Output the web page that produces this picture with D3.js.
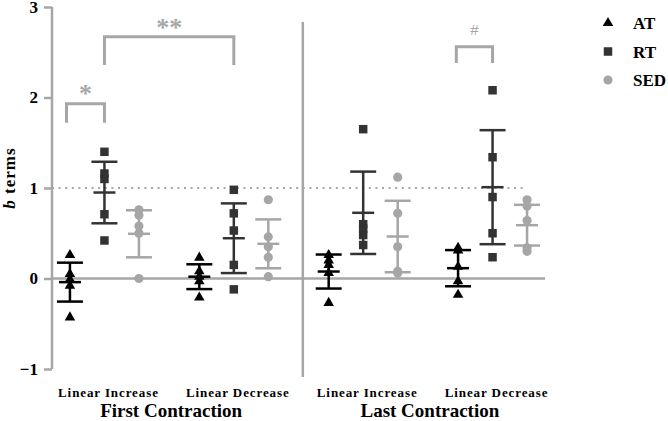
<!DOCTYPE html>
<html>
<head>
<meta charset="utf-8">
<script src="https://cdn.jsdelivr.net/npm/d3@7"></script>
<style>
  body { margin: 0; background: #fff; }
  text { font-family: "Liberation Serif", "DejaVu Serif", serif; }
</style>
</head>
<body>
<svg id="chart"></svg>
<script>
// Data
const phases = ["First Contraction", "Last Contraction"];
const groupLabels = ["Linear Increase", "Linear Decrease", "Linear Increase", "Linear Decrease"];
const seriesNames = ["AT", "RT", "SED"];

// individual points, one array per group
const atValues = [
  [0.26, 0.05, -0.01, -0.08, -0.43],
  [0.23, 0.08, 0.02, -0.03, -0.21],
  [0.26, 0.20, 0.15, 0.06, -0.27],
  [0.34, 0.31, 0.13, -0.03, -0.18]
];
const rtValues = [
  [1.40, 1.16, 1.10, 0.71, 0.42],
  [0.98, 0.72, 0.53, 0.15, -0.12],
  [1.65, 0.60, 0.55, 0.48, 0.37],
  [2.08, 1.34, 0.90, 0.50, 0.235]
];
const sedValues = [
  [0.76, 0.70, 0.58, 0.50, 0.00],
  [0.87, 0.46, 0.35, 0.235, 0.02],
  [1.12, 0.72, 0.35, 0.08, 0.06],
  [0.87, 0.80, 0.64, 0.34, 0.30]
];

// mean and SD shown by the error bars
const atMean = [-0.04, 0.02, 0.077, 0.114];
const atSd = [0.215, 0.137, 0.188, 0.2];
const rtMean = [0.95, 0.445, 0.726, 1.009];
const rtSd = [0.34, 0.385, 0.455, 0.63];
const sedMean = [0.494, 0.383, 0.464, 0.589];
const sedSd = [0.26, 0.27, 0.395, 0.225];

const yTicks = [-1, 0, 1, 2, 3];

// Chart dimensions
const svgWidth = 668;
const svgHeight = 421;
const axisColor = "#a6a6a6";
const colors = ["#000000", "#333333", "#a6a6a6"];

const svg = d3.select("#chart")
  .attr("width", svgWidth)
  .attr("height", svgHeight);

svg.append("rect")
  .attr("width", "100%")
  .attr("height", "100%")
  .attr("fill", "white");

// x works on a slot index: group g, series s -> g*3.75 + s
const slot = (g, s) => g * 3.75 + s;
const x = d3.scaleLinear()
  .domain([-0.52, 13.77])
  .range([52, 545]);

const y = d3.scaleLinear()
  .domain([-1, 3])
  .range([369, 7]);

// dotted reference line at 1
svg.append("line")
  .attr("x1", x(-0.52))
  .attr("x2", x(13.13))
  .attr("y1", y(1))
  .attr("y2", y(1))
  .attr("stroke", axisColor)
  .attr("stroke-width", 2)
  .attr("stroke-dasharray", "2,4.6");

// zero line
svg.append("line")
  .attr("x1", x(-0.52))
  .attr("x2", x(13.77))
  .attr("y1", y(0))
  .attr("y2", y(0))
  .attr("stroke", axisColor)
  .attr("stroke-width", 2.5);

// separator between first / last contraction
svg.append("line")
  .attr("x1", x(6.75))
  .attr("x2", x(6.75))
  .attr("y1", 22)
  .attr("y2", 377)
  .attr("stroke", axisColor)
  .attr("stroke-width", 2.5);

// y axis
svg.append("g")
  .attr("transform", "translate(" + x(-0.52) + ",0)")
  .call(d3.axisLeft(y).tickValues(yTicks).tickFormat(d3.format("d")).tickSize(8).tickPadding(6))
  .call(g => g.select(".domain")
    .attr("stroke", axisColor)
    .attr("stroke-width", 2.5)
    .attr("d", "M0," + y(3) + "V" + y(-1)))
  .call(g => g.selectAll(".tick line")
    .attr("stroke", axisColor)
    .attr("stroke-width", 2.5))
  .call(g => g.selectAll(".tick text")
    .attr("fill", "#000")
    .style("font-family", "Liberation Serif")
    .style("font-weight", "bold")
    .style("font-size", "17px"));

// y label
const yLabel = svg.append("text")
  .attr("transform", "translate(15,178) rotate(-90)")
  .attr("text-anchor", "middle")
  .style("font-weight", "bold")
  .style("font-size", "17px")
  .style("letter-spacing", "1px");
yLabel.append("tspan").style("font-style", "italic").text("b");
yLabel.append("tspan").text(" terms");

// x labels
groupLabels.forEach((label, g) => {
  svg.append("text")
    .attr("x", x(slot(g, 1)) + 4)
    .attr("y", 397)
    .attr("text-anchor", "middle")
    .style("font-weight", "bold")
    .style("font-size", "13px")
    .style("letter-spacing", "0.9px")
    .text(label);
});
phases.forEach((label, p) => {
  svg.append("text")
    .attr("x", (x(slot(p * 2, 1)) + x(slot(p * 2 + 1, 1))) / 2 + 2)
    .attr("y", 417)
    .attr("text-anchor", "middle")
    .style("font-weight", "bold")
    .style("font-size", "19px")
    .text(label);
});

// error bars (mean +/- SD)
const means = [atMean, rtMean, sedMean];
const sds = [atSd, rtSd, sedSd];
seriesNames.forEach((name, s) => {
  const bars = svg.append("g")
    .attr("stroke", colors[s])
    .attr("stroke-width", 2.5)
    .selectAll("g")
    .data(means[s].map((m, g) => ({ g: g, mean: m, sd: sds[s][g] })))
    .join("g");
  bars.append("line")
    .attr("x1", d => x(slot(d.g, s)))
    .attr("x2", d => x(slot(d.g, s)))
    .attr("y1", d => y(d.mean + d.sd))
    .attr("y2", d => y(d.mean - d.sd));
  bars.append("line")
    .attr("x1", d => x(slot(d.g, s)) - 13)
    .attr("x2", d => x(slot(d.g, s)) + 13)
    .attr("y1", d => y(d.mean + d.sd))
    .attr("y2", d => y(d.mean + d.sd));
  bars.append("line")
    .attr("x1", d => x(slot(d.g, s)) - 13)
    .attr("x2", d => x(slot(d.g, s)) + 13)
    .attr("y1", d => y(d.mean - d.sd))
    .attr("y2", d => y(d.mean - d.sd));
  bars.append("line")
    .attr("x1", d => x(slot(d.g, s)) - 11)
    .attr("x2", d => x(slot(d.g, s)) + 11)
    .attr("y1", d => y(d.mean))
    .attr("y2", d => y(d.mean));
});

// points
const shapes = [
  d3.symbol().type(d3.symbolTriangle).size(48),
  d3.symbol().type(d3.symbolSquare).size(72),
  d3.symbol().type(d3.symbolCircle).size(66)
];
const allValues = [atValues, rtValues, sedValues];
seriesNames.forEach((name, s) => {
  const pts = [];
  allValues[s].forEach((vals, g) => vals.forEach(v => pts.push({ g: g, v: v })));
  svg.append("g")
    .selectAll("path")
    .data(pts)
    .join("path")
    .attr("transform", d => "translate(" + x(slot(d.g, s)) + "," + y(d.v) + ")")
    .attr("d", shapes[s])
    .attr("fill", colors[s]);
});

// significance brackets
const brackets = [
  { x1: slot(0, 0) - 0.1, x2: slot(0, 1), top: 1.93, bottom: 1.72, label: "*", size: 26, font: "Liberation Serif" },
  { x1: slot(0, 1), x2: slot(1, 1), top: 2.67, bottom: 2.36, label: "**", size: 26, font: "Liberation Serif" },
  { x1: slot(3, 0) - 0.05, x2: slot(3, 1), top: 2.56, bottom: 2.38, label: "#", size: 15, font: "Liberation Sans" }
];
brackets.forEach(b => {
  svg.append("path")
    .attr("d", "M" + x(b.x1) + "," + y(b.bottom) + "V" + y(b.top) + "H" + x(b.x2) + "V" + y(b.bottom))
    .attr("fill", "none")
    .attr("stroke", axisColor)
    .attr("stroke-width", 3);
});
svg.append("text")
  .attr("x", (x(brackets[0].x1) + x(brackets[0].x2)) / 2)
  .attr("y", 102)
  .attr("text-anchor", "middle")
  .attr("fill", axisColor)
  .style("font-size", "26px")
  .style("font-weight", "bold")
  .text("*");
svg.append("text")
  .attr("x", (x(brackets[1].x1) + x(brackets[1].x2)) / 2)
  .attr("y", 36)
  .attr("text-anchor", "middle")
  .attr("fill", axisColor)
  .style("font-size", "26px")
  .style("font-weight", "bold")
  .text("**");
svg.append("text")
  .attr("x", (x(brackets[2].x1) + x(brackets[2].x2)) / 2)
  .attr("y", 35)
  .attr("text-anchor", "middle")
  .attr("fill", axisColor)
  .style("font-family", "Liberation Sans")
  .style("font-size", "15px")
  .text("#");

// legend
const legend = svg.append("g")
  .attr("transform", "translate(608,23)");
seriesNames.forEach((name, s) => {
  legend.append("path")
    .attr("transform", "translate(0," + (s * 28.5) + ")")
    .attr("d", shapes[s])
    .attr("fill", colors[s]);
  legend.append("text")
    .attr("x", 25)
    .attr("y", s * 28.5 + 6)
    .style("font-weight", "bold")
    .style("font-size", "17px")
    .text(name);
});
</script>
</body>
</html>
